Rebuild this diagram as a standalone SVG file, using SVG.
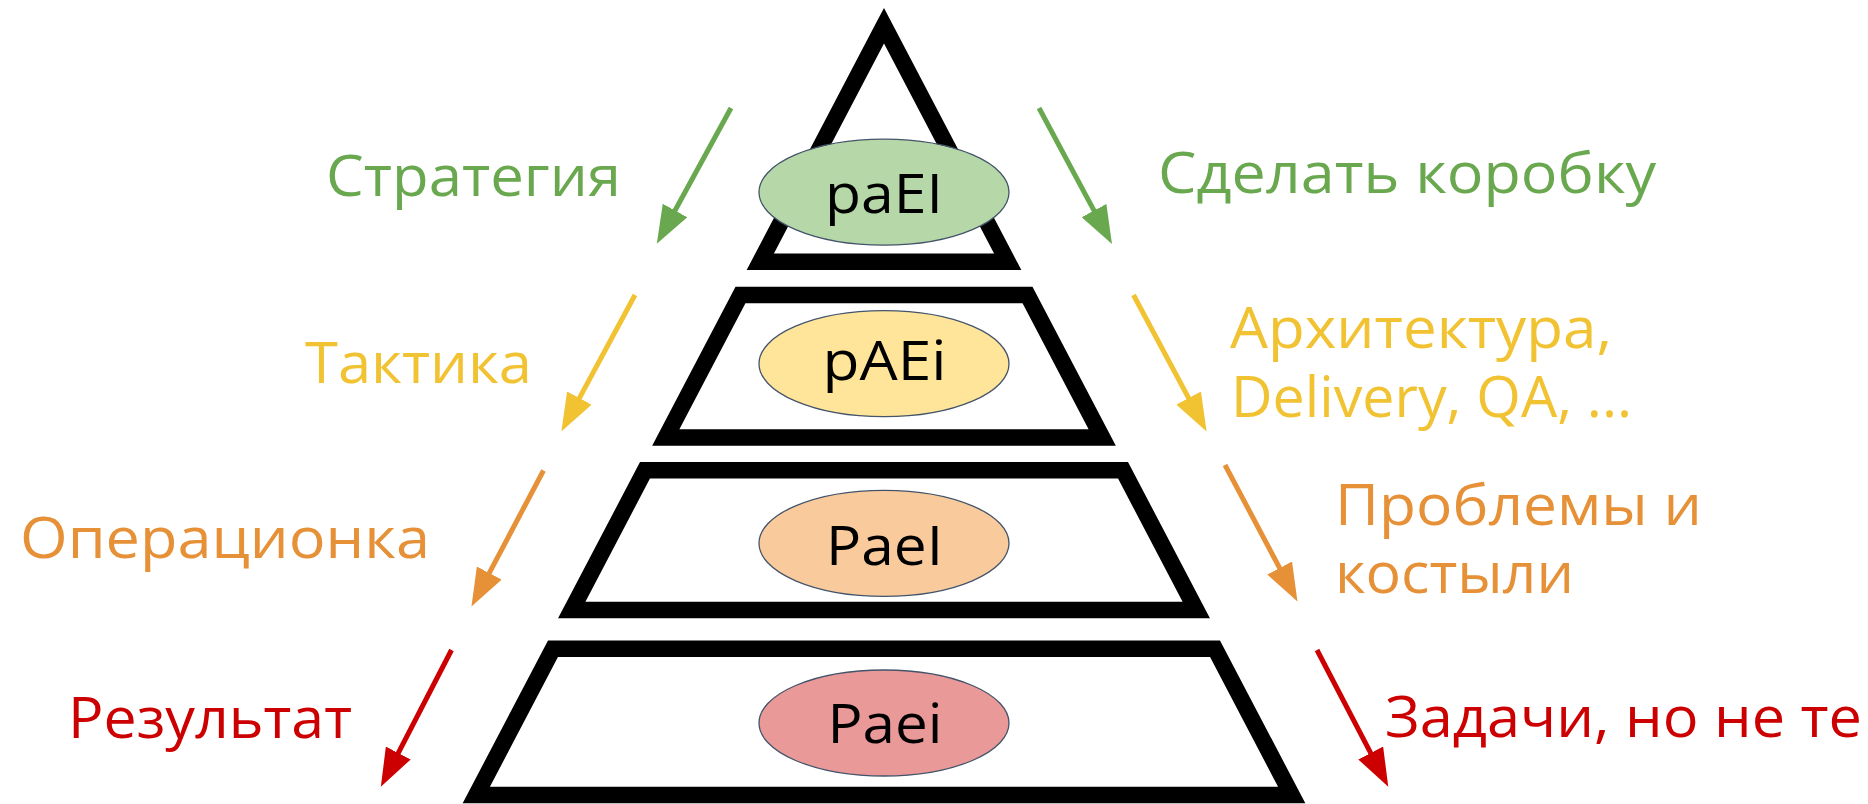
<svg xmlns="http://www.w3.org/2000/svg" width="1868" height="804" viewBox="0 0 1868 804">
  <style>
    .lvl { fill: none; stroke: #000; stroke-width: 16.5; stroke-linejoin: miter; stroke-miterlimit: 10; }
    .oval { stroke: #44546A; stroke-width: 1.3; }
    .code { font-family: "Open Sans", "Noto Sans", "DejaVu Sans", sans-serif; font-size: 55px; fill: #000; text-anchor: middle; }
    .lbl { font-family: "Open Sans", "Noto Sans", "DejaVu Sans", sans-serif; font-size: 56px; }
    .arr { fill: none; stroke-width: 5; }
    .green { fill: #6AA84F; }
    .yellow { fill: #F1C232; }
    .orange { fill: #E69138; }
    .red { fill: #CC0000; }
  </style>
  <defs>
    <marker id="head-green" viewBox="0 0 38 28" refX="8" refY="14" markerWidth="38" markerHeight="28" markerUnits="userSpaceOnUse" orient="auto">
      <path d="M0,0 L38,14 L0,28 Z" fill="#6AA84F"/>
    </marker>
    <marker id="head-yellow" viewBox="0 0 38 28" refX="8" refY="14" markerWidth="38" markerHeight="28" markerUnits="userSpaceOnUse" orient="auto">
      <path d="M0,0 L38,14 L0,28 Z" fill="#F1C232"/>
    </marker>
    <marker id="head-orange" viewBox="0 0 38 28" refX="8" refY="14" markerWidth="38" markerHeight="28" markerUnits="userSpaceOnUse" orient="auto">
      <path d="M0,0 L38,14 L0,28 Z" fill="#E69138"/>
    </marker>
    <marker id="head-red" viewBox="0 0 38 28" refX="8" refY="14" markerWidth="38" markerHeight="28" markerUnits="userSpaceOnUse" orient="auto">
      <path d="M0,0 L38,14 L0,28 Z" fill="#CC0000"/>
    </marker>
  </defs>

  <rect x="0" y="0" width="1868" height="804" fill="#fff"/>

  <!-- pyramid tiers, top to bottom -->
  <g id="tier-strategy">
    <polygon class="lvl" points="884,25.7 760.3,261.75 1007.7,261.75"/>
    <ellipse class="oval" cx="884" cy="192.2" rx="125" ry="53" fill="#B6D7A8"/>
    <text class="code" x="884" y="212.7" textLength="118" lengthAdjust="spacingAndGlyphs">paEI</text>
  </g>
  <g id="tier-tactics">
    <polygon class="lvl" points="740.5,294.95 1027.5,294.95 1102.2,437.45 665.8,437.45"/>
    <ellipse class="oval" cx="884" cy="363.7" rx="125" ry="53" fill="#FFE599"/>
    <text class="code" x="884.5" y="380" textLength="124" lengthAdjust="spacingAndGlyphs">pAEi</text>
  </g>
  <g id="tier-operations">
    <polygon class="lvl" points="645,470.25 1123,470.25 1196.3,610.05 571.7,610.05"/>
    <ellipse class="oval" cx="884" cy="543.3" rx="125" ry="53" fill="#F9CB9C"/>
    <text class="code" x="884.5" y="565" textLength="117" lengthAdjust="spacingAndGlyphs">PaeI</text>
  </g>
  <g id="tier-result">
    <polygon class="lvl" points="553,648.75 1215,648.75 1291.7,795 476.3,795"/>
    <ellipse class="oval" cx="884" cy="723" rx="125" ry="53" fill="#EA9999"/>
    <text class="code" x="885" y="743.3" textLength="115" lengthAdjust="spacingAndGlyphs">Paei</text>
  </g>

  <!-- descending arrows on both sides -->
  <g id="connectors">
    <line class="arr" stroke="#6AA84F" x1="731" y1="108" x2="671.2" y2="217.5" marker-end="url(#head-green)"/>
    <line class="arr" stroke="#6AA84F" x1="1039" y1="108" x2="1097.8" y2="217.6" marker-end="url(#head-green)"/>
    <line class="arr" stroke="#F1C232" x1="635" y1="295" x2="575.6" y2="405.1" marker-end="url(#head-yellow)"/>
    <line class="arr" stroke="#F1C232" x1="1133.5" y1="295" x2="1192.4" y2="405.1" marker-end="url(#head-yellow)"/>
    <line class="arr" stroke="#E69138" x1="543.5" y1="470.5" x2="485.5" y2="580.1" marker-end="url(#head-orange)"/>
    <line class="arr" stroke="#E69138" x1="1225" y1="465" x2="1283.4" y2="575.1" marker-end="url(#head-orange)"/>
    <line class="arr" stroke="#CC0000" x1="451.5" y1="650" x2="394.6" y2="760.1" marker-end="url(#head-red)"/>
    <line class="arr" stroke="#CC0000" x1="1317" y1="650" x2="1374.4" y2="760.1" marker-end="url(#head-red)"/>
  </g>

  <!-- side captions -->
  <g id="label-strategy">
    <text class="lbl green" x="326" y="195.7" textLength="295" lengthAdjust="spacingAndGlyphs">Стратегия</text>
  </g>
  <g id="label-box">
    <text class="lbl green" x="1158" y="193.3" textLength="498" lengthAdjust="spacingAndGlyphs">Сделать коробку</text>
  </g>
  <g id="label-tactics">
    <text class="lbl yellow" x="305" y="383.3" textLength="227" lengthAdjust="spacingAndGlyphs">Тактика</text>
  </g>
  <g id="label-architecture">
    <text class="lbl yellow" x="1230" y="348.3" textLength="382" lengthAdjust="spacingAndGlyphs">Архитектура,</text>
    <text class="lbl yellow" x="1231" y="416.7" textLength="401" lengthAdjust="spacingAndGlyphs">Delivery, QA, ...</text>
  </g>
  <g id="label-operations">
    <text class="lbl orange" x="20" y="558.3" textLength="410" lengthAdjust="spacingAndGlyphs">Операционка</text>
  </g>
  <g id="label-problems">
    <text class="lbl orange" x="1335" y="525" textLength="367" lengthAdjust="spacingAndGlyphs">Проблемы и</text>
    <text class="lbl orange" x="1335" y="592.7" textLength="239" lengthAdjust="spacingAndGlyphs">костыли</text>
  </g>
  <g id="label-result">
    <text class="lbl red" x="68" y="738.3" textLength="284" lengthAdjust="spacingAndGlyphs">Результат</text>
  </g>
  <g id="label-tasks">
    <text class="lbl red" x="1385" y="737" textLength="477" lengthAdjust="spacingAndGlyphs">Задачи, но не те</text>
  </g>
</svg>
